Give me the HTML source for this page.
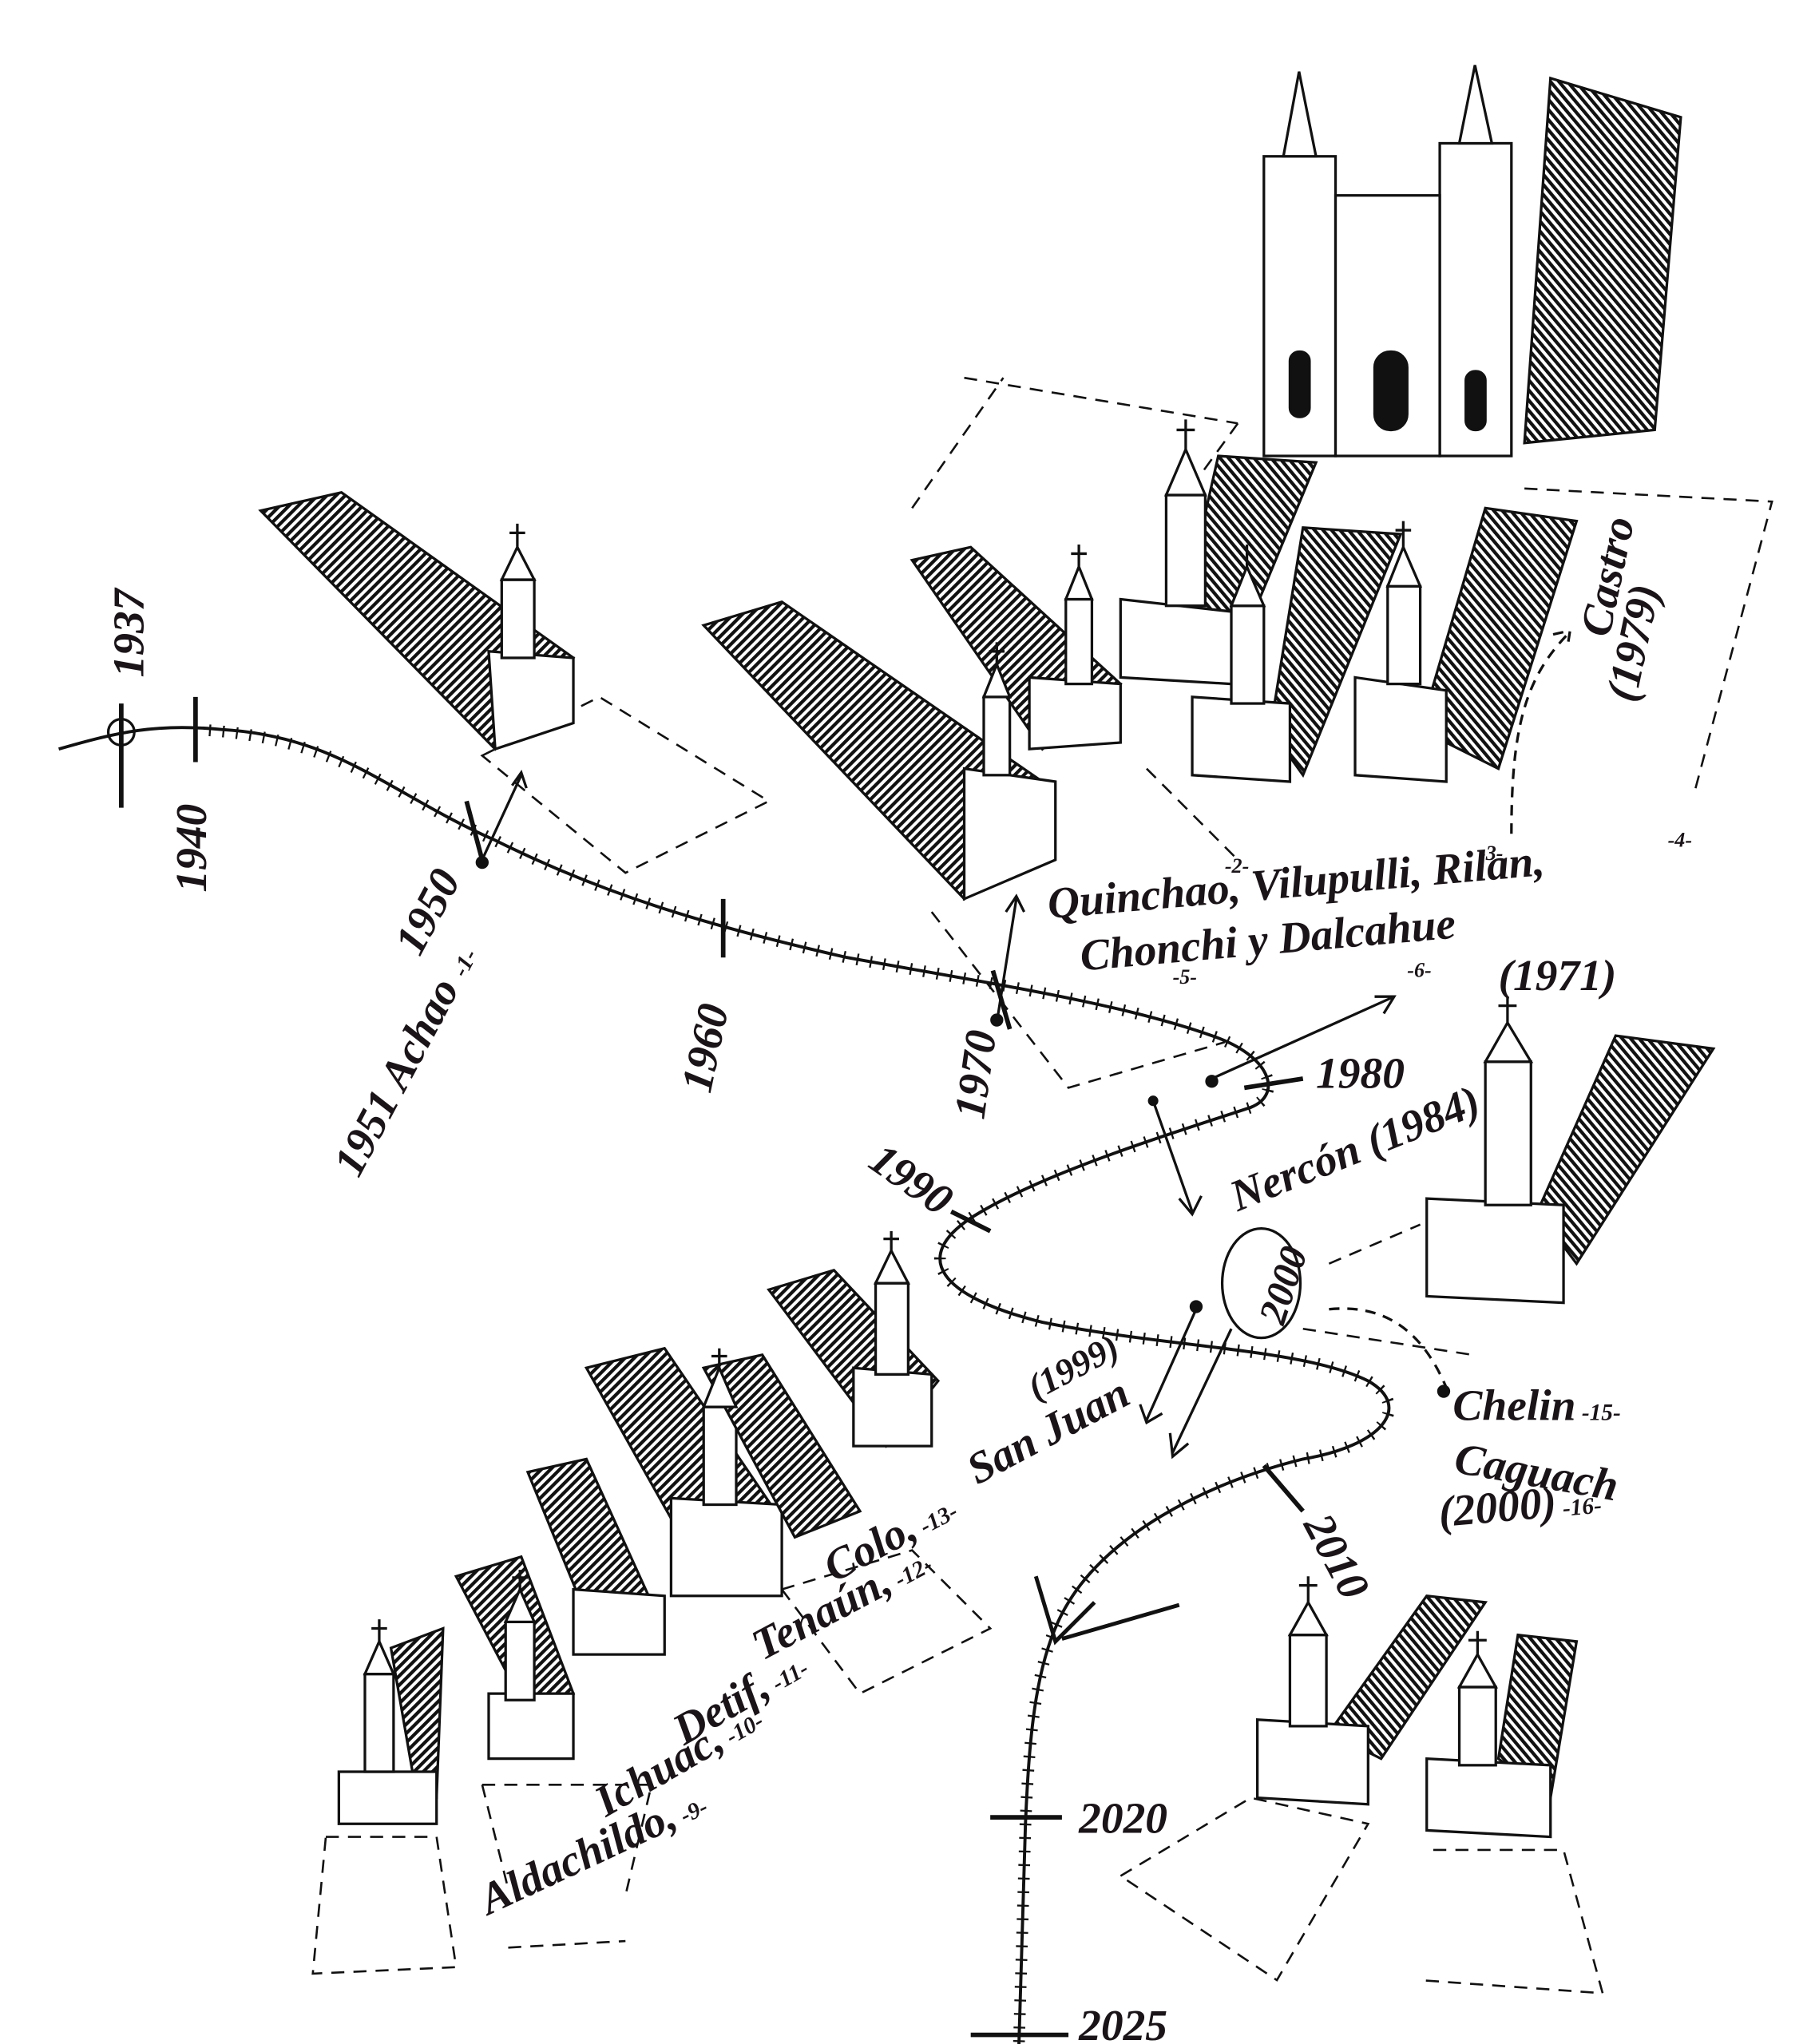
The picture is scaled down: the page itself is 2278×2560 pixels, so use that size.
<!DOCTYPE html>
<html><head><meta charset="utf-8"><style>
html,body{margin:0;padding:0;background:#fff;}
svg{display:block}
text{font-family:"Liberation Serif",serif;font-style:italic;font-weight:bold;fill:#1a1418;}
</style></head><body>
<svg width="2278" height="2560" viewBox="0 0 1396 1569" xmlns="http://www.w3.org/2000/svg">
<defs>
<pattern id="h" width="5" height="5" patternUnits="userSpaceOnUse" patternTransform="rotate(45)">
<rect width="5" height="5" fill="#fff"/><rect width="2.6" height="5" fill="#111"/></pattern>
<pattern id="h2" width="5" height="5" patternUnits="userSpaceOnUse" patternTransform="rotate(-40)">
<rect width="5" height="5" fill="#fff"/><rect width="2.6" height="5" fill="#111"/></pattern>
</defs>
<rect width="1396" height="1569" fill="#fff"/>
<g stroke="#111" stroke-width="2" fill="none">
<g stroke-dasharray="10,7" stroke-width="1.6">
<path d="M370,580 L460,535 L590,615 L480,670 Z"/>
<path d="M740,290 L950,325 M700,390 L770,290 M950,325 L910,380 M1170,375 L1360,385 L1300,610"/>
<path d="M715,700 L820,835 L940,800 M880,590 L950,660"/>
<path d="M1020,970 L1090,940 M1000,1020 L1130,1040"/>
<path d="M250,1410 L335,1410 L350,1510 L240,1515 Z"/>
<path d="M370,1370 L500,1370 L480,1455 M370,1370 L390,1450 M390,1495 L480,1490"/>
<path d="M860,1440 L960,1380 L1050,1400 L980,1520 Z M1100,1420 L1200,1420 L1230,1530 L1090,1520"/>
<path d="M600,1220 L700,1190 L760,1250 L660,1300 Z"/>
</g>
<path id="tl" d="M45,575 C90,562 120,555 170,560 C260,565 300,610 380,645 C460,685 540,710 650,735 C760,755 860,770 930,795 C975,810 985,840 960,850 C900,870 800,900 745,935 C700,965 720,995 800,1015 C900,1035 1000,1035 1050,1060 C1085,1080 1060,1110 1000,1120 C920,1140 850,1180 820,1230 C795,1270 790,1330 787,1400 L782,1569" stroke-width="2.4"/>
<path d="M150,560 C260,565 300,610 380,645 C460,685 540,710 650,735 C760,755 860,770 930,795 C975,810 985,840 960,850 C900,870 800,900 745,935 C700,965 720,995 800,1015 C900,1035 1000,1035 1050,1060 C1085,1080 1060,1110 1000,1120 C920,1140 850,1180 820,1230 C795,1270 790,1330 787,1400 L782,1569" stroke-width="9" stroke-dasharray="1.4,9"/>
<path d="M93,540 L93,620 M150,535 L150,585 M358,615 L370,660 M555,690 L555,735 M762,745 L775,790 M955,835 L1000,828 M730,930 L760,945 M970,1125 L1000,1160 M760,1395 L815,1395 M745,1562 L820,1562" stroke-width="3.5"/>
<circle cx="93" cy="562" r="10"/>
<path d="M370,660 L400,595 M393,603 L400,593 L404,605"/>
<path d="M765,785 L780,690 M772,700 L780,688 L786,700"/>
<path d="M930,828 L1070,765 M1055,765 L1070,765 L1062,778"/>
<path d="M885,845 L915,930 M905,920 L915,932 L922,918"/>
<path d="M918,1005 L880,1090 M875,1078 L880,1092 L892,1085"/>
<path d="M945,1020 L900,1115 M898,1100 L900,1118 L912,1108"/>
<path d="M840,1230 L810,1260 L795,1210 M815,1258 L905,1232" stroke-width="3"/>
<path d="M1160,640 C1160,560 1170,520 1205,485 M1192,487 L1205,484 L1203,497" stroke-dasharray="8,6"/>
<path d="M1020,1005 C1070,1000 1095,1030 1110,1065" stroke-dasharray="8,6"/>
<ellipse cx="968" cy="985" rx="30" ry="42"/>
</g>
<g fill="#111"><circle cx="370" cy="662" r="5"/><circle cx="765" cy="783" r="5"/><circle cx="930" cy="830" r="5"/><circle cx="885" cy="845" r="4"/><circle cx="918" cy="1003" r="5"/><circle cx="1108" cy="1068" r="5"/></g>
<g stroke="#111" stroke-width="2">
<polygon points="200,392 262,378 440,505 380,575" fill="url(#h)"/>
<polygon points="375,500 440,505 440,555 380,575" fill="#fff"/>
<rect x="385" y="445" width="25" height="60" fill="#fff"/>
<polygon points="540,480 600,462 800,600 740,690" fill="url(#h)"/>
<polygon points="740,590 810,600 810,660 740,690" fill="#fff"/><rect x="755" y="535" width="20" height="60" fill="#fff"/>
<polygon points="700,430 745,420 860,525 800,575" fill="url(#h)"/>
<polygon points="790,520 860,525 860,570 790,575" fill="#fff"/><rect x="818" y="460" width="20" height="65" fill="#fff"/>
<polygon points="935,350 1010,355 950,500 910,460" fill="url(#h2)"/>
<polygon points="860,460 950,470 945,525 860,520" fill="#fff"/><rect x="895" y="380" width="30" height="85" fill="#fff"/>
<polygon points="1000,405 1075,410 1000,595 975,560" fill="url(#h2)"/>
<polygon points="915,535 990,540 990,600 915,595" fill="#fff"/><rect x="945" y="465" width="25" height="75" fill="#fff"/>
<polygon points="1140,390 1210,400 1150,590 1090,560" fill="url(#h2)"/>
<polygon points="1040,520 1110,530 1110,600 1040,595" fill="#fff"/><rect x="1065" y="450" width="25" height="75" fill="#fff"/>
<polygon points="1190,60 1290,90 1270,330 1170,340" fill="url(#h2)"/>
<rect x="970" y="120" width="55" height="230" fill="#fff"/><rect x="1105" y="110" width="55" height="240" fill="#fff"/>
<rect x="1025" y="150" width="80" height="200" fill="#fff"/>
<polygon points="985,120 997,55 1010,120" fill="#fff"/><polygon points="1120,110 1132,50 1145,110" fill="#fff"/>
<rect x="1055" y="270" width="25" height="60" rx="12" fill="#111"/>
<rect x="990" y="270" width="15" height="50" rx="7" fill="#111"/><rect x="1125" y="285" width="15" height="45" rx="7" fill="#111"/>
<polygon points="1240,795 1315,805 1210,970 1180,930" fill="url(#h2)"/>
<polygon points="1095,920 1200,925 1200,1000 1095,995" fill="#fff"/><rect x="1140" y="815" width="35" height="110" fill="#fff"/>
<polygon points="590,990 640,975 720,1060 680,1110" fill="url(#h)"/>
<polygon points="655,1050 715,1055 715,1110 655,1110" fill="#fff"/><rect x="672" y="985" width="25" height="70" fill="#fff"/>
<polygon points="450,1050 510,1035 595,1160 540,1210" fill="url(#h)"/>
<polygon points="515,1150 600,1155 600,1225 515,1225" fill="#fff"/><rect x="540" y="1080" width="25" height="75" fill="#fff"/>
<polygon points="540,1050 585,1040 660,1160 610,1180" fill="url(#h)"/>
<polygon points="405,1130 450,1120 500,1230 450,1240" fill="url(#h)"/>
<polygon points="440,1220 510,1225 510,1270 440,1270" fill="#fff"/>
<polygon points="350,1210 400,1195 440,1300 400,1305" fill="url(#h)"/>
<polygon points="375,1300 440,1300 440,1350 375,1350" fill="#fff"/><rect x="388" y="1245" width="22" height="60" fill="#fff"/>
<polygon points="300,1265 340,1250 335,1380 320,1380" fill="url(#h)"/>
<polygon points="260,1360 335,1360 335,1400 260,1400" fill="#fff"/><rect x="280" y="1285" width="22" height="75" fill="#fff"/>
<polygon points="1095,1225 1140,1230 1060,1350 1020,1330" fill="url(#h2)"/>
<polygon points="965,1320 1050,1325 1050,1385 965,1380" fill="#fff"/><rect x="990" y="1255" width="28" height="70" fill="#fff"/>
<polygon points="1165,1255 1210,1260 1190,1380 1150,1350" fill="url(#h2)"/>
<polygon points="1095,1350 1190,1355 1190,1410 1095,1405" fill="#fff"/><rect x="1120" y="1295" width="28" height="60" fill="#fff"/>
</g>
<!-- spires + crosses -->
<g stroke="#111" stroke-width="2" fill="#fff">
<path d="M385,445 L397,420 L410,445 Z M397,420 V402 M391,409 H403"/>
<path d="M755,535 L765,510 L775,535 Z M765,510 V493 M759,500 H771"/>
<path d="M818,460 L828,435 L838,460 Z M828,435 V418 M822,425 H834"/>
<path d="M895,380 L910,345 L925,380 Z M910,345 V322 M903,330 H917"/>
<path d="M945,465 L957,435 L970,465 Z M957,435 V418"/>
<path d="M1065,450 L1077,420 L1090,450 Z M1077,420 V400 M1071,407 H1083"/>
<path d="M1140,815 L1157,785 L1175,815 Z M1157,785 V765 M1150,772 H1164"/>
<path d="M672,985 L684,960 L697,985 Z M684,960 V945 M678,951 H690"/>
<path d="M540,1080 L552,1050 L565,1080 Z M552,1050 V1035 M546,1041 H558"/>
<path d="M388,1245 L399,1220 L410,1245 Z M399,1220 V1205 M393,1211 H405"/>
<path d="M280,1285 L291,1260 L302,1285 Z M291,1260 V1243 M285,1250 H297"/>
<path d="M990,1255 L1004,1230 L1018,1255 Z M1004,1230 V1210 M997,1217 H1011"/>
<path d="M1120,1295 L1134,1270 L1148,1295 Z M1134,1270 V1252 M1127,1259 H1141"/>
</g>
<g font-size="34">
<text transform="translate(110,520) rotate(-90)">1937</text>
<text transform="translate(158,685) rotate(-90)">1940</text>
<text transform="translate(322,735) rotate(-62)">1950</text>
<text transform="translate(275,905) rotate(-62)">1951 Achao <tspan font-size="18">-1-</tspan></text>
<text transform="translate(545,840) rotate(-78)">1960</text>
<text transform="translate(755,860) rotate(-82)">1970</text>
<text x="1010" y="835">1980</text>
<text transform="translate(950,930) rotate(-22)">Nercón (1984)</text>
<text transform="translate(665,895) rotate(35)">1990</text>
<text transform="translate(985,1018) rotate(-72)" font-size="30">2000</text>
<text transform="translate(805,705) rotate(-5)">Quinchao, Vilupulli, Rilan,</text>
<text transform="translate(830,745) rotate(-5)">Chonchi y Dalcahue</text>
<text x="1150" y="760">(1971)</text>
<text transform="translate(1235,490) rotate(-78)">Castro</text>
<text transform="translate(1255,540) rotate(-78)">(1979)</text>
<text x="1115" y="1090">Chelin<tspan font-size="18"> -15-</tspan></text>
<text transform="translate(1115,1130) rotate(10)">Caguach</text>
<text transform="translate(1105,1172) rotate(-5)">(2000)<tspan font-size="18"> -16-</tspan></text>
<text transform="translate(750,1140) rotate(-28)">San Juan</text>
<text transform="translate(795,1075) rotate(-28)" font-size="28">(1999)</text>
<text transform="translate(640,1215) rotate(-28)">Colo,<tspan font-size="18"> -13-</tspan></text>
<text transform="translate(585,1275) rotate(-28)">Tenaún,<tspan font-size="18"> -12-</tspan></text>
<text transform="translate(525,1340) rotate(-30)">Detif,<tspan font-size="18"> -11-</tspan></text>
<text transform="translate(465,1395) rotate(-30)">Ichuac,<tspan font-size="18"> -10-</tspan></text>
<text transform="translate(375,1470) rotate(-25)">Aldachildo,<tspan font-size="18"> -9-</tspan></text>
<text transform="translate(1000,1170) rotate(62)">2010</text>
<text x="828" y="1407">2020</text>
<text x="828" y="1566">2025</text>
<text x="940" y="670" font-size="16">-2-</text><text x="1135" y="660" font-size="16">-3-</text>
<text x="1280" y="650" font-size="16">-4-</text><text x="900" y="755" font-size="16">-5-</text>
<text x="1080" y="750" font-size="16">-6-</text>
</g>
</svg>
</body></html>
